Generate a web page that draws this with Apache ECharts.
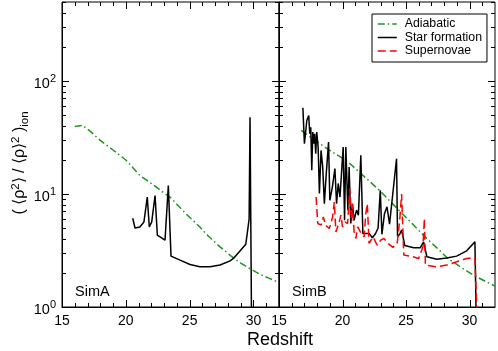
<!DOCTYPE html>
<html>
<head>
<meta charset="utf-8">
<script src="https://cdn.jsdelivr.net/npm/echarts@6/dist/echarts.min.js"></script>
<style>html,body{margin:0;padding:0;background:#fff}#c{width:498px;height:351px}</style>
</head>
<body>
<div id="c"></div>
<script>
// ---- data ----
const xTickLabels = [15, 20, 25, 30];
const yTickLabels = [1, 10, 100];

// SimA (left panel)
const zAdiabaticA = [16.0,16.6,17.2,18.0,19.0,20.0,21.1,22.0,23.0,23.5,24.7,25.8,26.5,27.2,28.2,29.0,29.7,30.5,31.2,32.0];
const vAdiabaticA = [39.6,40.5,36,29.8,24.5,20,14.6,12.4,10.2,9.3,6.7,5.1,4.2,3.55,2.85,2.45,2.19,1.95,1.8,1.65];
const zStarA = [20.54,20.72,21.1,21.42,21.68,21.84,22.03,22.29,22.47,23.07,23.33,23.54,24.25,25.03,25.8,26.6,27.38,28.17,28.43,29.4,29.66,29.73,29.86];
const vStarA = [6.1,5.0,5.1,5.66,9.4,5.1,5.66,9.7,4.32,3.9,11.9,2.82,2.6,2.38,2.27,2.27,2.35,2.56,2.69,3.6,6.0,47.8,0.5];

// SimB (right panel)
const zAdiabaticB = [16.75,18.2,19.2,20.3,21.5,22.9,23.8,24.7,25.6,26.5,27.4,28.3,29.3,30.4,31.2,32.0];
const vAdiabaticB = [36.5,27.9,23.5,19.8,15,10.8,8.5,6.7,5.3,4.17,3.35,2.69,2.25,1.88,1.7,1.53];
const zStarB = [16.88,17.0,17.19,17.34,17.42,17.5,17.58,17.66,17.73,17.81,17.89,17.97,18.08,18.18,18.31,18.44,18.57,18.7,18.9,19.0,19.2,19.4,19.53,19.66,19.8,19.95,20.05,20.16,20.26,20.42,20.52,20.65,20.78,20.91,21.1,21.25,21.44,21.6,22.1,22.35,22.6,22.8,22.97,23.1,23.3,23.5,23.7,24.25,24.33,24.5,24.65,24.9,25.6,26.12,26.38,26.64,27.42,28.2,28.98,29.77,30.42,30.55];
const vStarB = [58,27.9,44.7,49.5,34.1,39,16.2,35.3,27.9,34.1,22.7,35.3,26,10.1,24.3,17.3,8.2,14.1,28.8,8.8,11.5,16.8,8.2,12.4,9.4,17.3,26,5.86,26,7.2,17.3,5.48,8.2,5.86,7.2,6.5,22,4.47,4.47,4.1,4.47,5.0,10.8,4.4,6.7,7.7,5.4,20.5,4.2,4.4,4.8,3.5,3.34,3.34,3.77,2.78,2.65,2.72,2.82,3.14,3.77,0.5];
const zSuperB = [17.92,18.05,18.18,18.31,18.49,18.66,18.96,19.22,19.35,19.48,19.74,19.87,20.0,20.2,20.4,20.58,20.7,20.78,20.91,21.05,21.2,21.4,21.7,21.83,21.95,22.09,22.4,22.73,23.0,23.26,23.65,23.96,24.3,24.5,24.65,24.82,25.34,25.99,26.33,26.44,26.52,27.42,28.2,28.98,29.77,30.42,30.65];
const vSuperB = [9.4,5.48,5.66,5.3,6.27,5.3,4.95,6.27,8.5,4.62,5.66,6.5,5.12,5.66,5.48,11.2,5.86,8.2,4.62,4.04,5.12,4.62,4.17,6.7,8.2,3.65,4.17,3.52,3.9,4.04,3.6,3.37,3.65,5.86,10.0,2.88,2.82,2.69,3.41,6.07,2.35,2.27,2.35,2.51,2.69,2.74,0.5];

const seriesNames = ['Adiabatic', 'Star formation', 'Supernovae'];
const panelLabels = ['SimA', 'SimB'];

// ---- style ----
const FONT = '"Liberation Sans", Arial, Helvetica, sans-serif';
const GREEN = '#1e961e', RED = '#ff0000', BLACK = '#000000';
const zip = (a, b) => a.map((v, i) => [v, b[i]]);

const chart = echarts.init(document.getElementById('c'), null, {renderer: 'canvas'});

function xAxisCfg(i) {
  return {
    type: 'value', gridIndex: i, min: 15, max: 32, interval: 5,
    axisLine: {show: true, lineStyle: {color: BLACK, width: 1}},
    axisTick: {show: false}, splitLine: {show: false},
    axisLabel: {
      show: true, margin: 7, color: BLACK, fontSize: 14, fontFamily: FONT,
      formatter: v => (xTickLabels.indexOf(v) >= 0 ? String(v) : '')
    }
  };
}
function yAxisCfg(i, labels) {
  return {
    type: 'log', logBase: 10, gridIndex: i, min: 1, max: 500,
    axisLine: {show: true, lineStyle: {color: BLACK, width: 1}},
    axisTick: {show: false}, splitLine: {show: false},
    axisLabel: {
      show: labels, margin: 6, color: BLACK, fontFamily: FONT,
      formatter: v => {
        const e = Math.log10(v);
        if (Math.abs(e - Math.round(e)) > 1e-6) return '';
        if (yTickLabels.indexOf(Math.round(v)) < 0) return '';
        return '{b|10}{s|' + Math.round(e) + '}';
      },
      rich: {
        b: {fontSize: 14.5, fontFamily: FONT, color: BLACK, lineHeight: 18, padding: [6, 0, 0, 0]},
        s: {fontSize: 11, fontFamily: FONT, color: BLACK, lineHeight: 18, padding: [0, 0, 5, 0]}
      }
    }
  };
}
function line(name, xi, z, v, color, type) {
  return {
    type: 'line', name: name, xAxisIndex: xi, yAxisIndex: xi,
    data: zip(z, v), symbol: 'none', showSymbol: false, clip: true,
    animation: false,
    lineStyle: {color: color, width: 1.5, type: type},
    itemStyle: {color: color}
  };
}
const DASHDOT = [7, 3, 1.5, 3];
const DASHED = [8, 4];

chart.setOption({
  animation: false,
  backgroundColor: '#fff',
  grid: [
    {left: 62, top: 2, width: 217, height: 305, show: true, borderColor: BLACK, borderWidth: 1, backgroundColor: 'transparent'},
    {left: 279, top: 2, width: 218, height: 305, show: true, borderColor: BLACK, borderWidth: 1, backgroundColor: 'transparent'}
  ],
  xAxis: [xAxisCfg(0), xAxisCfg(1)],
  yAxis: [yAxisCfg(0, true), yAxisCfg(1, false)],
  legend: {
    show: true, orient: 'vertical', left: 372, top: 14,
    padding: [4, 5, 5, 5], itemGap: 1.5, itemWidth: 19, itemHeight: 14,
    borderColor: BLACK, borderWidth: 1, backgroundColor: '#fff', borderRadius: 0,
    itemStyle: {opacity: 0, borderWidth: 0},
    lineStyle: {width: 1.5},
    textStyle: {fontSize: 12.3, fontFamily: FONT, color: BLACK, padding: [0, 0, 0, 3]},
    data: seriesNames
  },
  series: [
    line(seriesNames[0], 0, zAdiabaticA, vAdiabaticA, GREEN, DASHDOT),
    line(seriesNames[1], 0, zStarA, vStarA, BLACK, 'solid'),
    line(seriesNames[0], 1, zAdiabaticB, vAdiabaticB, GREEN, DASHDOT),
    line(seriesNames[1], 1, zStarB, vStarB, BLACK, 'solid'),
    line(seriesNames[2], 1, zSuperB, vSuperB, RED, DASHED)
  ]
});

// ---- ticks (inside, all four sides) and texts ----
const els = [];
const MAJ = 7, MIN = 4;
for (let g = 0; g < 2; g++) {
  const px = v => chart.convertToPixel({xAxisIndex: g}, v);
  const py = v => chart.convertToPixel({yAxisIndex: g}, v);
  const xl = px(15), xr = px(32), yb = py(1), yt = py(500);
  for (let z = 16; z <= 31; z++) {
    const len = z % 5 === 0 ? MAJ : MIN;
    const x = Math.round(px(z)) + 0.5;
    els.push({type: 'line', z: 50, shape: {x1: x, y1: yb, x2: x, y2: yb - len}, style: {stroke: BLACK, lineWidth: 1}});
    els.push({type: 'line', z: 50, shape: {x1: x, y1: yt, x2: x, y2: yt + len}, style: {stroke: BLACK, lineWidth: 1}});
  }
  const yt_ = [];
  [1, 10, 100].forEach(d => { for (let k = 1; k <= 9; k++) { const v = d * k; if (v > 1 && v <= 500) yt_.push([v, k === 1]); } });
  yt_.forEach(([v, major]) => {
    const len = major ? MAJ : MIN;
    const y = Math.round(py(v)) + 0.5;
    els.push({type: 'line', z: 50, shape: {x1: xl, y1: y, x2: xl + len, y2: y}, style: {stroke: BLACK, lineWidth: 1}});
    els.push({type: 'line', z: 50, shape: {x1: xr, y1: y, x2: xr - len, y2: y}, style: {stroke: BLACK, lineWidth: 1}});
  });
  els.push({type: 'text', z: 50, x: xl + 13, y: yb - 15,
    style: {text: panelLabels[g], fill: BLACK, font: '14.5px ' + FONT, align: 'left', verticalAlign: 'middle'}});
}
// axis titles
els.push({type: 'text', z: 50, x: 280, y: 340,
  style: {text: 'Redshift', fill: BLACK, font: '18px ' + FONT, align: 'center', verticalAlign: 'middle'}});
els.push({type: 'text', z: 50, x: 20, y: 163, rotation: Math.PI / 2,
  style: {
    text: '{t|( \u27E8\u03C1}{s|2}{t|\u27E9 / \u27E8\u03C1\u27E9}{s|2}{t| )}{u|ion}',
    align: 'center', verticalAlign: 'middle',
    rich: {
      t: {fontSize: 16, fontFamily: FONT, fill: BLACK, color: BLACK, lineHeight: 22},
      s: {fontSize: 11.5, fontFamily: FONT, fill: BLACK, color: BLACK, lineHeight: 22, padding: [0, 0, 9, 0]},
      u: {fontSize: 11.5, fontFamily: FONT, fill: BLACK, color: BLACK, lineHeight: 22, padding: [9, 0, 0, 0]}
    }
  }});
chart.setOption({graphic: els});
</script>
</body>
</html>
